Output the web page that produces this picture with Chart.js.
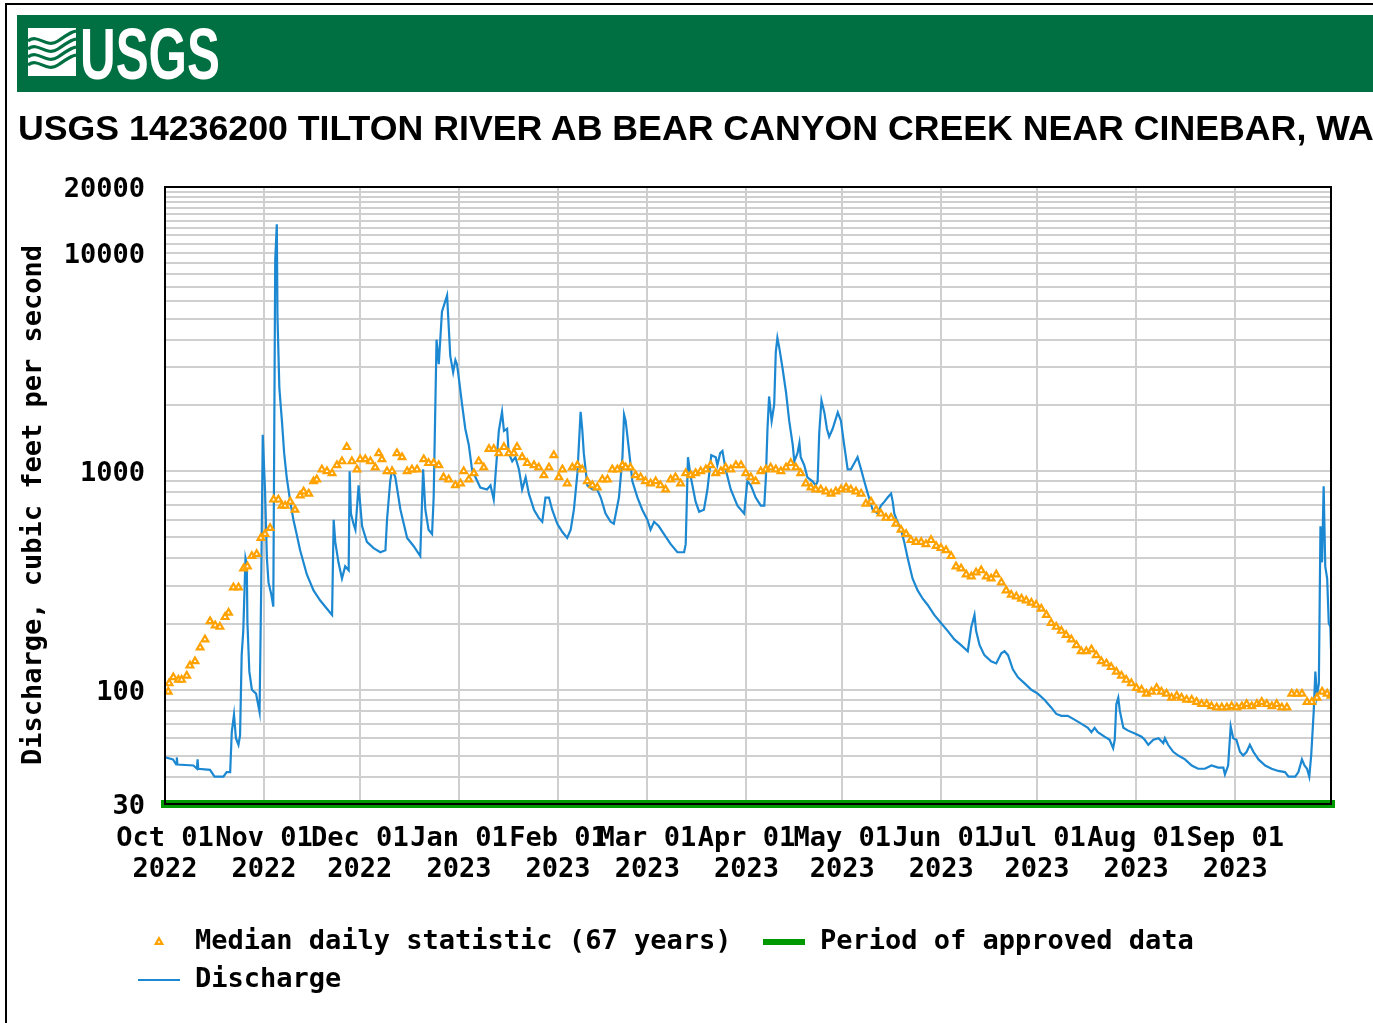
<!DOCTYPE html>
<html>
<head>
<meta charset="utf-8">
<title>USGS 14236200 Tilton River</title>
<script src="https://cdn.jsdelivr.net/npm/chart.js@4.4.1/dist/chart.umd.min.js"></script>
<style>
  html, body { margin: 0; padding: 0; background: #fff; }
  body { width: 1373px; height: 1023px; position: relative; overflow: hidden; }
  #frame {
    position: absolute; left: 5px; top: 3px; width: 1400px; height: 1100px;
    border-left: 2px solid #000; border-top: 2px solid #000;
  }
  #banner {
    position: absolute; left: 17px; top: 15px; width: 1356px; height: 77px;
    background: #006f41; z-index: 2;
  }
  #logo-icon { position: absolute; left: 11px; top: 13px; }
  #logo-text {
    position: absolute; left: 63px; top: 3px; color: #fff;
    font: bold 72.6px "Liberation Sans Narrow", "Liberation Sans", sans-serif;
    line-height: 72.6px; white-space: nowrap; transform-origin: left top;
  }
  #title {
    position: absolute; left: 18px; top: 111px; z-index: 2;
    font: bold 35.7px "Liberation Sans", Arial, sans-serif;
    line-height: 35.7px; white-space: nowrap; color: #000;
  }
  #chart { position: absolute; left: 0; top: 0; z-index: 1; }
</style>
</head>
<body>
<div id="frame"></div>
<div id="banner">
  <svg id="logo-icon" width="48" height="48" viewBox="0 0 48 48">
    <rect x="0" y="0" width="48" height="48" fill="#fff"/>
    <g fill="none" stroke="#006f41" stroke-width="3.2">
      <path d="M0 13 C10 5, 18 21, 30 13 S42 4, 48 3"/>
      <path d="M0 21 C10 13, 18 29, 30 21 S42 12, 48 11"/>
      <path d="M0 29 C10 21, 18 37, 30 29 S42 20, 48 19"/>
      <path d="M0 37 C10 29, 18 45, 30 37 S42 28, 48 27"/>
    </g>
  </svg>
  <div id="logo-text">USGS</div>
</div>
<div id="title">USGS 14236200 TILTON RIVER AB BEAR CANYON CREEK NEAR CINEBAR, WA</div>
<canvas id="chart" width="1373" height="1023"></canvas>

<script>
// x axis: days since 01 Oct 2022
const monthTickDays = [0, 31, 61, 92, 123, 151, 182, 212, 243, 273, 304, 335, 365];
const monthTickLabels = [
  ["Oct 01", "2022"], ["Nov 01", "2022"], ["Dec 01", "2022"], ["Jan 01", "2023"],
  ["Feb 01", "2023"], ["Mar 01", "2023"], ["Apr 01", "2023"], ["May 01", "2023"],
  ["Jun 01", "2023"], ["Jul 01", "2023"], ["Aug 01", "2023"], ["Sep 01", "2023"], ""
];

// y axis (log): grid lines and labelled values
const yGridValues = [
  30, 40, 50, 60, 70, 80, 90,
  100, 200, 300, 400, 500, 600, 700, 800, 900,
  1000, 2000, 3000, 4000, 5000, 6000, 7000, 8000, 9000,
  10000, 11000, 12000, 13000, 14000, 15000, 16000, 17000, 18000, 19000, 20000
];
const yLabelValues = [30, 100, 1000, 10000, 20000];
const yTitle = 'Discharge, cubic feet per second';

// Discharge, cfs
const dischargeDays = [
  0.3, 2.5, 3.5, 3.7, 3.9, 8.9, 10.0, 10.2, 10.4, 14.1, 15.5, 18.3, 19.3, 20.4, 20.9, 21.6, 22.2, 23.0, 23.5,
  24.0, 24.5, 25.2, 25.6, 25.8, 26.4, 27.2, 28.5, 29.6, 30.1, 30.6, 31.3, 31.9, 32.4, 33.3, 33.9, 34.5, 35.0,
  35.2, 35.8, 36.6, 37.3, 38.1, 39.2, 40.2, 41.2, 42.3, 44.4, 46.5, 48.6, 50.7, 52.3, 52.8, 53.3, 54.3, 55.4,
  56.4, 57.5, 57.8, 58.2, 59.0, 59.6, 60.6, 61.7, 63.2, 65.3, 67.4, 69.0, 69.5, 70.5, 71.1, 72.1, 73.7, 75.8,
  77.8, 79.9, 80.8, 81.5, 82.5, 83.6, 84.1, 85.0, 85.7, 86.7, 88.3, 89.3, 90.2, 90.9, 91.4, 91.9, 93.0, 94.0,
  95.1, 96.1, 97.2, 98.7, 100.8, 101.9, 102.9, 103.4, 104.5, 105.5, 106.1, 107.1, 107.6, 108.7, 109.7, 110.8,
  111.8, 112.9, 113.9, 115.5, 117.0, 118.1, 119.1, 120.2, 121.2, 122.8, 124.4, 125.9, 127.0, 128.0, 129.1,
  130.1, 130.6, 131.1, 132.2, 133.8, 135.3, 136.4, 137.9, 139.5, 140.5, 142.1, 143.2, 143.7, 144.2, 145.2,
  146.3, 147.9, 149.4, 151.0, 152.0, 153.1, 154.6, 156.2, 158.3, 160.4, 162.5, 163.0, 163.7, 164.6, 166.1,
  167.2, 168.7, 169.8, 171.0, 172.4, 172.9, 173.8, 174.5, 175.5, 177.1, 179.2, 181.3, 182.3, 183.4, 184.9,
  186.5, 187.6, 188.1, 188.6, 189.1, 189.9, 190.7, 191.2, 191.7, 192.3, 193.3, 194.4, 195.4, 196.5, 197.0,
  198.0, 198.6, 199.0, 200.1, 201.1, 202.7, 203.7, 204.3, 204.8, 205.5, 206.4, 207.2, 207.9, 209.0, 210.6,
  211.6, 212.6, 213.7, 214.7, 215.8, 216.8, 217.9, 218.9, 220.0, 221.5, 223.1, 224.1, 225.2, 226.2, 227.3,
  227.8, 228.3, 229.3, 230.4, 231.4, 232.5, 234.0, 235.6, 237.2, 238.7, 240.8, 242.9, 245.0, 247.1, 249.2,
  251.3, 252.4, 253.4, 253.9, 255.0, 256.5, 258.6, 260.2, 261.8, 262.8, 263.9, 265.4, 267.0, 269.1, 271.2,
  273.2, 275.3, 277.4, 279.0, 280.6, 282.6, 284.7, 286.8, 288.9, 290.0, 291.0, 292.0, 294.1, 295.7, 296.8,
  297.3, 297.8, 298.4, 298.9, 300.0, 301.5, 303.6, 305.7, 306.7, 307.8, 309.4, 311.0, 312.5, 313.0, 314.0,
  315.6, 317.2, 319.3, 321.4, 323.4, 325.5, 327.6, 329.7, 331.3, 331.8, 332.8, 333.6, 334.4, 335.4, 336.5,
  337.5, 338.6, 339.6, 340.7, 342.3, 344.4, 346.4, 348.5, 350.6, 351.7, 353.8, 354.8, 355.9, 356.7, 357.5,
  358.2, 358.8, 359.6, 360.1, 360.6, 361.2, 361.7, 362.2, 362.7, 363.2, 363.8, 364.3, 364.8, 365.0
];
const dischargeCfs = [
  49, 48, 45.5, 49, 45.5, 45, 43.5, 48, 43.5, 43, 40, 40, 42, 42, 64, 77, 60, 56, 62,
  144, 186, 400, 375, 203, 121, 100, 96, 79, 285, 1468, 825, 400, 310, 272, 240, 9183, 13500,
  5170, 2400, 1700, 1210, 938, 726, 600, 516, 435, 337, 285, 256, 235, 220, 600, 475, 383, 323,
  367, 352, 1000, 640, 575, 540, 862, 560, 475, 445, 426, 435, 600, 900, 1020, 938, 667, 495,
  455, 409, 1020, 667, 540, 516, 758, 4000, 3090, 5380, 6380, 3370, 2840, 3230, 3090, 2725, 2020, 1565,
  1320, 1020, 938, 843, 825, 862, 742, 938, 1530, 1870, 1530, 1565, 1210, 1110, 1160, 1020,
  825, 938, 790, 667, 612, 587, 758, 758, 667, 575, 527, 495, 540, 667, 980,
  1870, 1565, 1210, 862, 825, 825, 758, 640, 587, 575, 758, 1160, 1815, 1700, 1265,
  900, 758, 667, 600, 540, 587, 560, 516, 464, 426, 426, 464, 1160, 938, 726,
  653, 667, 825, 1185, 1160, 1066, 1210, 1238, 1020, 825, 696, 640, 900, 862, 758,
  696, 696, 938, 1565, 2200, 1700, 2020, 3510, 4080, 3670, 2970, 2300, 1700, 1320, 1110,
  1210, 1350, 1160, 1066, 938, 900, 862, 900, 1500, 2110, 1860, 1565, 1440, 1565, 1860,
  1700, 1320, 1020, 1020, 1090, 1160, 1020, 900, 790, 667, 640, 696, 726, 758, 790,
  726, 640, 587, 540, 475, 400, 323, 285, 261, 245, 220, 202, 186, 170, 160,
  150, 194, 220, 186, 160, 144, 135, 132, 147, 150, 144, 124, 114, 107, 100,
  96, 90, 83, 77.5, 76, 76, 73, 70, 67, 64, 67, 64, 61, 59, 54,
  59, 86, 92, 80, 67, 65, 63, 61, 59, 56, 59, 60, 57, 60, 56,
  52, 50, 48, 45, 43.5, 43.5, 45, 44, 44, 41, 45, 68, 60, 59, 52,
  50, 52, 56, 52, 48, 45, 43.5, 42.5, 42, 40, 40, 42, 48, 45, 43.5,
  40, 50, 80, 121, 94, 107, 560, 383, 853, 367, 323, 202, 194, 152
];

// Median daily statistic (67 years), cfs
const medianDays = [
  1.0, 1.3, 2.6, 4.2, 5.2, 6.8, 7.8, 9.4, 11.0, 12.5, 14.1, 15.7, 17.2, 18.8, 19.9, 21.4, 23.0, 24.6, 25.8,
  27.2, 28.7, 30.0, 31.3, 32.9, 34.0, 35.5, 36.6, 37.6, 39.2, 40.7, 42.3, 43.4, 45.0, 46.5, 47.5, 49.1, 50.7,
  52.3, 53.8, 55.4, 56.9, 58.5, 60.1, 61.1, 62.7, 64.3, 65.8, 66.9, 67.9, 69.5, 71.1, 72.6, 74.2, 75.8, 77.3,
  78.9, 81.0, 82.5, 84.1, 85.7, 87.2, 88.8, 90.9, 92.5, 93.5, 95.1, 96.7, 98.2, 99.8, 101.4, 102.9, 104.5,
  106.1, 107.6, 109.2, 110.2, 111.8, 113.4, 115.5, 117.0, 118.6, 120.2, 121.7, 123.3, 124.4, 125.9, 127.5,
  129.1, 130.6, 132.2, 133.8, 135.3, 136.9, 138.5, 140.0, 141.6, 143.2, 144.2, 145.7, 147.3, 148.9, 150.4,
  152.0, 153.6, 155.1, 156.7, 158.3, 159.8, 161.4, 163.0, 164.6, 166.1, 167.7, 169.3, 170.8, 172.4, 174.0,
  175.5, 177.1, 178.7, 180.3, 181.8, 183.4, 184.9, 186.5, 188.1, 189.6, 191.2, 192.8, 194.4, 195.9, 197.5,
  199.0, 200.6, 202.2, 203.7, 205.3, 206.9, 208.5, 210.0, 211.6, 213.2, 214.7, 216.3, 217.9, 219.4, 221.0,
  222.6, 224.1, 225.7, 227.3, 228.8, 230.4, 232.0, 233.5, 235.1, 236.7, 238.2, 239.8, 241.4, 242.9, 244.5,
  246.1, 247.6, 249.2, 250.8, 252.4, 253.9, 255.5, 257.1, 258.6, 260.2, 261.8, 263.3, 264.9, 266.5, 268.1,
  269.6, 271.2, 272.7, 274.3, 275.9, 277.4, 279.0, 280.6, 282.1, 283.7, 285.3, 286.8, 288.4, 290.0, 291.5,
  293.1, 294.7, 296.2, 297.8, 299.4, 300.9, 302.5, 304.1, 305.7, 307.2, 308.8, 310.4, 311.9, 313.5, 315.1,
  316.7, 318.2, 319.8, 321.4, 322.9, 324.5, 326.1, 327.6, 329.2, 330.8, 332.4, 333.9, 335.5, 337.1, 338.6,
  340.2, 341.8, 343.3, 344.9, 346.5, 348.0, 349.6, 351.2, 352.7, 354.3, 355.9, 357.5, 359.0, 360.6, 362.2,
  363.8, 365.0
];
const medianCfs = [
  98, 107, 114, 111, 111, 116, 129, 135, 156, 170, 206, 197, 194, 215, 225, 294, 294, 359, 367,
  409, 418, 495, 516, 550, 742, 742, 696, 696, 726, 667, 774, 808, 790, 900, 918, 1020, 1000,
  980, 1066, 1110, 1290, 1110, 1020, 1135, 1135, 1110, 1040, 1210, 1135, 1000, 1000, 1210, 1160, 1000, 1020,
  1020, 1135, 1090, 1090, 1066, 938, 918, 862, 880, 1000, 918, 980, 1110, 1040, 1265, 1265, 1210,
  1290, 1210, 1210, 1290, 1160, 1090, 1066, 1040, 960, 1040, 1185, 938, 1020, 880, 1040,
  1066, 1020, 900, 862, 843, 918, 918, 1020, 1020, 1066, 1040, 1040, 960, 938, 900,
  880, 900, 862, 825, 918, 938, 880, 980, 960, 980, 1000, 1020, 1066, 980, 1000,
  1040, 1020, 1066, 1066, 980, 938, 900, 1000, 1020, 1040, 1020, 1000, 1040, 1090, 1040,
  980, 880, 843, 825, 825, 808, 790, 808, 825, 843, 825, 808, 790, 711, 726,
  667, 640, 612, 612, 575, 540, 516, 484, 475, 475, 464, 484, 455, 445, 435,
  409, 367, 359, 337, 330, 344, 352, 330, 323, 337, 310, 285, 272, 267, 261,
  256, 250, 245, 235, 220, 202, 194, 186, 178, 170, 160, 150, 150, 153, 144,
  135, 132, 127, 121, 116, 111, 107, 102, 100, 96, 98, 102, 98, 96, 92,
  94, 92, 90, 90, 88, 86, 86, 84, 83, 83, 83, 84, 83, 84, 86,
  84, 86, 88, 86, 84, 86, 83, 83, 96, 96, 96, 88, 88, 92, 98,
  96, 94
];

// Period of approved data (whole water year, drawn along the 30 cfs floor)
const approvedDays = [0, 365];
const approvedLevel = [30, 30];

const monoFont = '"DejaVu Sans Mono", "Liberation Mono", monospace';
const axisFont = { family: monoFont, size: 27, weight: 'bold', lineHeight: 1.15 };

// fit the white USGS wordmark into its slot
const logoText = document.getElementById('logo-text');
const logoW = logoText.getBoundingClientRect().width;
logoText.style.transform = 'scaleX(' + (140 / logoW) + ')';

const toPoints = (xs, ys) => xs.map((x, i) => ({ x: x, y: ys[i] }));

// legend slots: dataset index, swatch left, row centre
const legendSlots = [
  { ds: 0, x: 138, y: 942 },
  { ds: 2, x: 763, y: 942 },
  { ds: 1, x: 138, y: 980 }
];

const usgsDecor = {
  id: 'usgsDecor',
  afterDatasetsDraw(chart) {
    const { ctx, chartArea: a } = chart;
    ctx.save();
    ctx.strokeStyle = '#000';
    ctx.lineWidth = 2;
    ctx.strokeRect(a.left, a.top, a.right - a.left, a.bottom - a.top);
    ctx.restore();
  },
  afterDraw(chart) {
    const ctx = chart.ctx;
    ctx.save();
    ctx.font = 'bold 27px ' + monoFont;
    ctx.textBaseline = 'middle';

    // rotated y-axis title
    ctx.save();
    ctx.translate(34, 505);
    ctx.rotate(-Math.PI / 2);
    ctx.textAlign = 'center';
    ctx.fillStyle = '#000';
    ctx.fillText(yTitle, 0, 0);
    ctx.restore();

    legendSlots.forEach(slot => {
      const ds = chart.data.datasets[slot.ds];
      const cx = slot.x + 21;
      if (ds.showLine === false) {
        ctx.fillStyle = ds.pointBackgroundColor;
        ctx.strokeStyle = ds.pointBorderColor;
        ctx.lineWidth = ds.pointBorderWidth;
        Chart.helpers.drawPoint(ctx, {
          pointStyle: ds.pointStyle, radius: ds.pointRadius, borderWidth: ds.pointBorderWidth, rotation: 0
        }, cx, slot.y);
      } else {
        ctx.strokeStyle = ds.borderColor;
        ctx.lineWidth = Math.min(ds.borderWidth, 6);
        ctx.beginPath();
        ctx.moveTo(slot.x, slot.y);
        ctx.lineTo(slot.x + 42, slot.y);
        ctx.stroke();
      }
      ctx.fillStyle = '#000';
      ctx.fillText(ds.label, slot.x + 57, slot.y);
    });
    ctx.restore();
  }
};

new Chart(document.getElementById('chart'), {
  type: 'line',
  data: {
    datasets: [
      {
        label: 'Median daily statistic (67 years)',
        data: toPoints(medianDays, medianCfs),
        showLine: false,
        pointStyle: 'triangle',
        pointRadius: 3.8,
        pointBorderWidth: 2.2,
        pointBorderColor: '#ffa200',
        pointBackgroundColor: '#ffffff'
      },
      {
        label: 'Discharge',
        data: toPoints(dischargeDays, dischargeCfs),
        borderColor: '#1c88d2',
        borderWidth: 2.2,
        pointRadius: 0,
        tension: 0
      },
      {
        label: 'Period of approved data',
        data: toPoints(approvedDays, approvedLevel),
        borderColor: '#009a00',
        borderWidth: 8,
        borderCapStyle: 'square',
        pointRadius: 0,
        clip: false
      }
    ]
  },
  options: {
    responsive: false,
    animation: false,
    devicePixelRatio: 1,
    events: [],
    layout: { padding: { top: 187, right: 42, bottom: 0, left: 0 } },
    plugins: {
      legend: { display: false },
      title: { display: false },
      tooltip: { enabled: false }
    },
    scales: {
      x: {
        type: 'linear',
        min: 0,
        max: 365,
        afterBuildTicks: s => { s.ticks = monthTickDays.map(v => ({ value: v })); },
        afterFit: s => { s.height = 219; },
        grid: { color: '#cfcfcf', lineWidth: 2, drawTicks: false },
        border: { display: false },
        ticks: {
          autoSkip: false,
          maxRotation: 0,
          minRotation: 0,
          padding: 19,
          color: '#000',
          font: axisFont,
          callback: (v, i) => monthTickLabels[i]
        }
      },
      y: {
        type: 'logarithmic',
        min: 30,
        max: 20000,
        afterBuildTicks: s => { s.ticks = yGridValues.map(v => ({ value: v })); },
        afterFit: s => { s.width = 165; },
        grid: { color: '#cfcfcf', lineWidth: 2, drawTicks: false },
        border: { display: false },
        ticks: {
          autoSkip: false,
          padding: 20,
          labelOffset: 3,
          color: '#000',
          font: axisFont,
          callback: v => (yLabelValues.includes(v) ? String(v) : '')
        }
      }
    }
  },
  plugins: [usgsDecor]
});
</script>
</body>
</html>
